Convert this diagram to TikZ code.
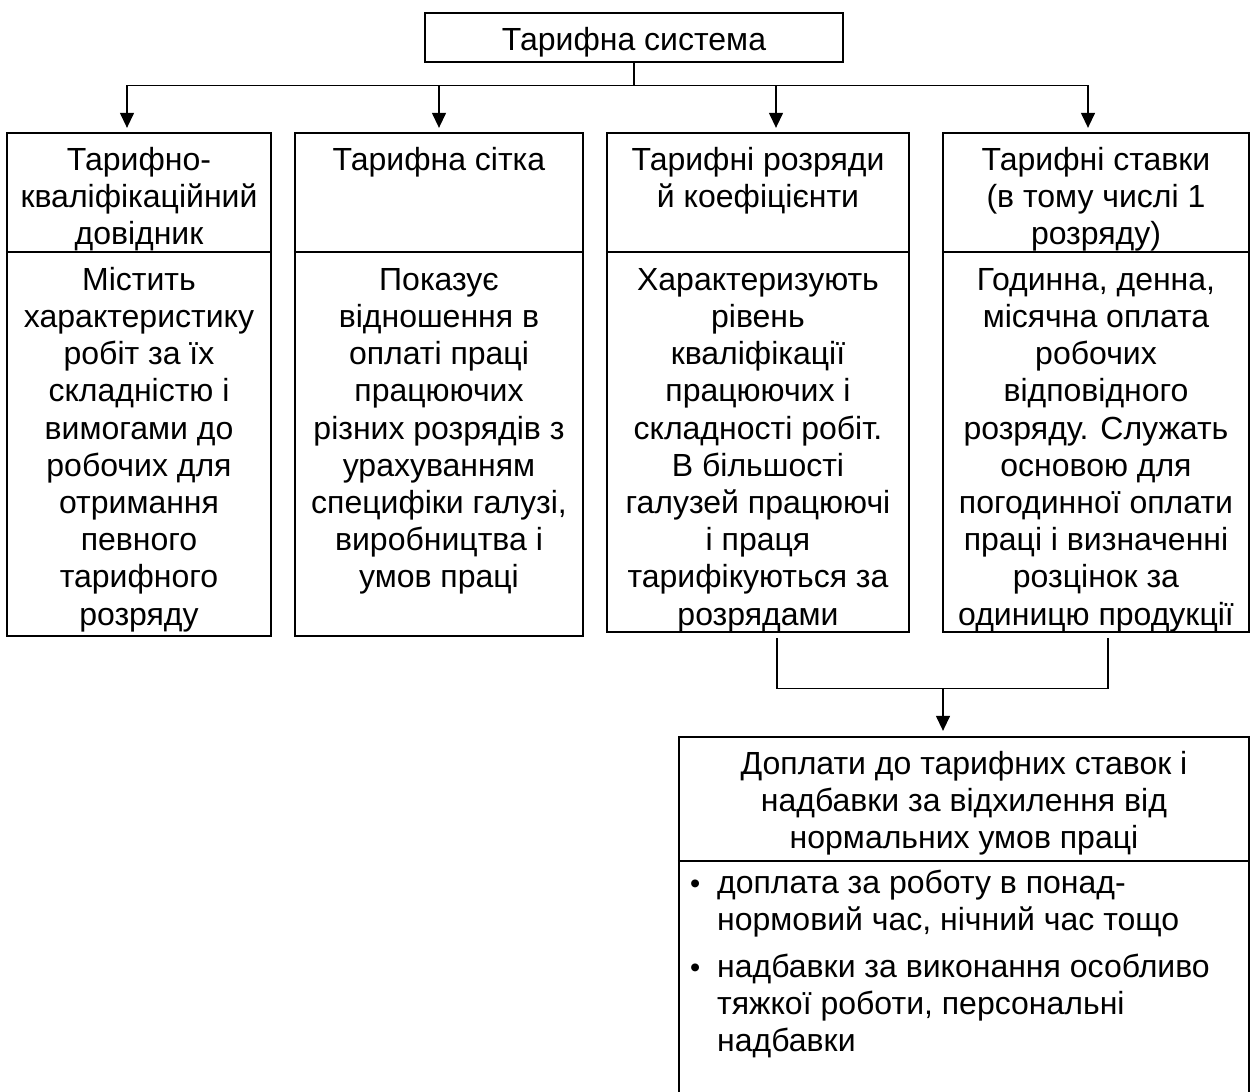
\documentclass[tikz,border=0pt]{standalone}
\usepackage{fontspec}
\setmainfont{Liberation Sans}
\usetikzlibrary{arrows.meta}
% fixes the top of the first line of every text block
\newcommand{\firstline}{\rule{0pt}{28pt}}
\begin{document}
\begin{tikzpicture}[x=1pt,y=-1pt,
  box/.style={draw, line width=2.3pt, inner sep=0pt},
  divider/.style={line width=2.3pt},
  txt/.style={inner sep=0pt, align=center, anchor=north,
              font=\fontsize{32pt}{37.2pt}\selectfont},
  ltxt/.style={txt, align=left, anchor=north west},
  bullet/.style={inner sep=0pt, anchor=base west,
              font=\fontsize{29pt}{34pt}\selectfont},
  conn/.style={line width=1.3pt},
  arr/.style={conn, -{Triangle[length=15pt,width=14pt]}}]
\fill[white] (0,0) rectangle (1251,1092);
\useasboundingbox (0,0) rectangle (1251,1092);

% root
\node[box, minimum width=418pt, minimum height=49pt] (top) at (634,37.5) {};
\node[txt] (topt) at (634,22) {\firstline Тарифна система};

% the four elements of the system
\node[box, minimum width=264pt, minimum height=503pt] (b1) at (139,384.5) {};
\node[box, minimum width=288pt, minimum height=503pt] (b2) at (439,384.5) {};
\node[box, minimum width=302pt, minimum height=499pt] (b3) at (758,382.5) {};
\node[box, minimum width=306pt, minimum height=499pt] (b4) at (1096,382.5) {};
\foreach \b in {b1,b2,b3,b4}
  \draw[divider] ([yshift=-120pt]\b.north west) -- ([yshift=-120pt]\b.north east);

\node[txt] (h1) at (139,142) {\firstline Тарифно-\\кваліфікаційний\\довідник};
\node[txt] (h2) at (439,142) {\firstline Тарифна сітка};
\node[txt] (h3) at (758,142) {\firstline Тарифні розряди\\й коефіцієнти};
\node[txt] (h4) at (1096,142) {\firstline Тарифні ставки\\(в тому числі 1\\розряду)};

\node[txt] (t1) at (139,262) {\firstline Містить\\характеристику\\робіт за їх\\складністю і\\вимогами до\\робочих для\\отримання\\певного\\тарифного\\розряду};
\node[txt] (t2) at (439,262) {\firstline Показує\\відношення в\\оплаті праці\\працюючих\\різних розрядів з\\урахуванням\\специфіки галузі,\\виробництва і\\умов праці};
\node[txt] (t3) at (758,262) {\firstline Характеризують\\рівень\\кваліфікації\\працюючих і\\складності робіт.\\В більшості\\галузей працюючі\\і праця\\тарифікуються за\\розрядами};
\node[txt] (t4) at (1096,262) {\firstline Годинна, денна,\\місячна оплата\\робочих\\відповідного\\розряду. Служать\\основою для\\погодинної оплати\\праці і визначенні\\розцінок за\\одиницю продукції};

% additional payments
\node[box, minimum width=570pt, minimum height=363pt] (bot) at (964,918.5) {};
\draw[divider] ([yshift=-125pt]bot.north west) -- ([yshift=-125pt]bot.north east);
\node[txt] (bh) at (964,746) {\firstline Доплати до тарифних ставок і\\надбавки за відхилення від\\нормальних умов праці};
\node[bullet] (d1) at (690,893) {•};
\node[ltxt] (i1) at (717,865) {\firstline доплата за роботу в понад-\\нормовий час, нічний час тощо};
\node[bullet] (d2) at (690,977) {•};
\node[ltxt] (i2) at (717,949) {\firstline надбавки за виконання особливо\\тяжкої роботи, персональні\\надбавки};

% connectors from the root
\draw[conn] (top.south) -- ++(0,22) coordinate (hub);
\draw[arr] (hub) -| ([xshift=-12pt,yshift=4pt]b1.north);
\draw[arr] (hub) -| ([yshift=4pt]b2.north);
\draw[arr] (hub) -| ([xshift=18pt,yshift=4pt]b3.north);
\draw[arr] (hub) -| ([xshift=-8pt,yshift=4pt]b4.north);

% connectors to the additional payments
\draw[conn] ([xshift=19pt,yshift=-5pt]b3.south) -- ++(0,50) coordinate (merge)
  -| ([xshift=12pt,yshift=-5pt]b4.south);
\coordinate (bt) at ([xshift=-21pt,yshift=5pt]bot.north);
\draw[arr] (bt |- merge) -- (bt);
\end{tikzpicture}
\end{document}
